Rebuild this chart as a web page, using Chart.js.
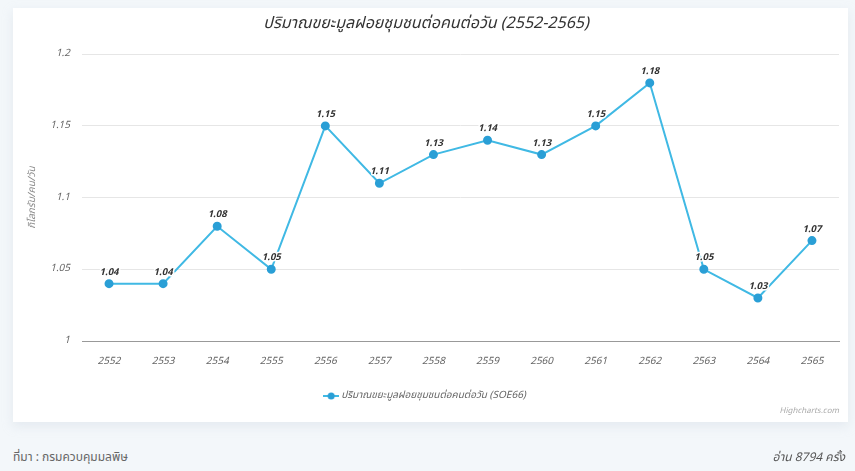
<!DOCTYPE html>
<html>
<head>
<meta charset="utf-8">
<script src="https://cdn.jsdelivr.net/npm/chart.js@4"></script>
<style>
  html, body { margin:0; padding:0; width:855px; height:471px; background:#f3f7fa; overflow:hidden;
    font-family: 'Noto Sans Thai', 'Noto Sans', 'DejaVu Sans', sans-serif; }
  #card { position:absolute; left:13px; top:8px; width:835px; height:414px; background:#fff;
    box-shadow: 0 4px 10px rgba(200,210,220,0.35); }
  #wrap { position:absolute; left:0; top:0; width:835px; height:414px; }
  #credits { position:absolute; right:9px; top:397px; font-size:8px; color:#aaa; font-style:italic; }
  #src { position:absolute; left:13px; top:448px; font-size:12px; color:#666; }
  #reads { position:absolute; right:10px; top:448px; font-size:12px; color:#555; font-style:italic; }
</style>
</head>
<body>
<div id="card">
  <div id="wrap"><canvas id="c"></canvas></div>
  <div id="credits">Highcharts.com</div>
</div>
<div id="src">ที่มา : กรมควบคุมมลพิษ</div>
<div id="reads">อ่าน 8794 ครั้ง</div>
<script>
const categories = ['2552','2553','2554','2555','2556','2557','2558','2559','2560','2561','2562','2563','2564','2565'];
const wastePerPerson = [1.04,1.04,1.08,1.05,1.15,1.11,1.13,1.14,1.13,1.15,1.18,1.05,1.03,1.07];
const seriesName = 'ปริมาณขยะมูลฝอยชุมชนต่อคนต่อวัน (SOE66)';
const chartTitle = 'ปริมาณขยะมูลฝอยชุมชนต่อคนต่อวัน (2552-2565)';
const yAxisTitle = 'กิโลกรัม/คน/วัน';

const FONT = "'Noto Sans Thai', 'Noto Sans', 'DejaVu Sans', sans-serif";
const LINE_COLOR = '#40b9e4';
const POINT_COLOR = '#2a9fd6';

// legend symbol: short line with a dot (Highcharts-like)
const legendIcon = document.createElement('canvas');
legendIcon.width = 16; legendIcon.height = 8;
(function () {
  const g = legendIcon.getContext('2d');
  g.strokeStyle = LINE_COLOR; g.lineWidth = 2;
  g.beginPath(); g.moveTo(0, 4); g.lineTo(16, 4); g.stroke();
  g.fillStyle = POINT_COLOR;
  g.beginPath(); g.arc(8, 4, 3.5, 0, Math.PI * 2); g.fill();
})();

const dataLabels = {
  id: 'dataLabels',
  afterDatasetsDraw(chart) {
    const ctx = chart.ctx;
    const meta = chart.getDatasetMeta(0);
    const ds = chart.data.datasets[0];
    ctx.save();
    ctx.font = "italic bold 9.5px " + FONT;
    ctx.textAlign = 'center';
    ctx.textBaseline = 'middle';
    ctx.lineJoin = 'round';
    meta.data.forEach((pt, i) => {
      const txt = ds.data[i].toFixed(2);
      ctx.strokeStyle = '#ffffff';
      ctx.lineWidth = 3;
      ctx.strokeText(txt, pt.x, pt.y - 11);
      ctx.fillStyle = '#333';
      ctx.fillText(txt, pt.x, pt.y - 11);
    });
    ctx.restore();
  }
};

new Chart(document.getElementById('c'), {
  type: 'line',
  data: {
    labels: categories,
    datasets: [{
      label: seriesName,
      data: wastePerPerson,
      borderColor: LINE_COLOR,
      backgroundColor: POINT_COLOR,
      pointBackgroundColor: POINT_COLOR,
      pointBorderColor: POINT_COLOR,
      borderWidth: 2,
      pointRadius: 3.5,
      pointHoverRadius: 3.5,
      pointStyle: 'circle',
      tension: 0,
      fill: false
    }]
  },
  options: {
    responsive: true,
    maintainAspectRatio: false,
    animation: false,
    layout: { padding: { left: 0, right: 9, top: 0, bottom: 11 } },
    plugins: {
      title: {
        display: true,
        text: chartTitle,
        color: '#333',
        font: { family: FONT, size: 16, style: 'italic', weight: 'normal' },
        padding: { top: 7, bottom: 20 }
      },
      legend: {
        position: 'bottom',
        labels: {
          usePointStyle: true,
          generateLabels(chart) {
            return [{
              text: seriesName,
              pointStyle: legendIcon,
              fillStyle: POINT_COLOR,
              strokeStyle: POINT_COLOR,
              lineWidth: 0,
              fontColor: '#666',
              hidden: false,
              datasetIndex: 0
            }];
          },
          color: '#666',
          font: { family: FONT, size: 10, style: 'italic' },
          padding: 10
        }
      },
      tooltip: { enabled: false }
    },
    scales: {
      x: {
        offset: true,
        grid: { display: false, drawTicks: false },
        border: { display: true, color: '#999', width: 1 },
        ticks: { color: '#666', padding: 15, maxRotation: 0,
          font: { family: FONT, size: 10, style: 'italic' } },
        afterFit(s) { s.height = 40; }
      },
      y: {
        min: 1, max: 1.2,
        grid: { color: '#e6e6e6', drawTicks: false },
        border: { display: false },
        ticks: { stepSize: 0.05, color: '#666', padding: 12,
          font: { family: FONT, size: 10, style: 'italic' },
          callback: v => String(Number(v.toFixed(2))) },
        title: { display: true, text: yAxisTitle, color: '#888',
          font: { family: FONT, size: 10, style: 'italic' }, padding: { top: 14, bottom: 0 } },
        afterFit(s) { s.width = 69; }
      }
    }
  },
  plugins: [dataLabels]
});
</script>
</body>
</html>
